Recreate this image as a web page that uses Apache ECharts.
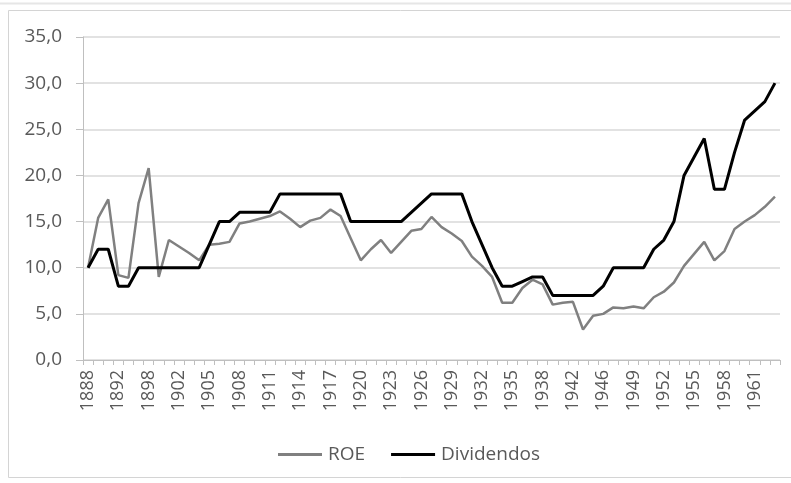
<!DOCTYPE html>
<html>
<head>
<meta charset="utf-8">
<script src="https://cdn.jsdelivr.net/npm/echarts@6/dist/echarts.min.js"></script>
<style>
html,body{margin:0;padding:0;background:#fff;}
#chart{width:791px;height:483px;}
</style>
</head>
<body>
<div id="chart"></div>
<script>
const years = [1888,1889,1890,1892,1894,1896,1898,1899,1900,1902,1903,1904,1905,1906,1907,1908,1909,1910,1911,1912,1913,1914,1915,1916,1917,1918,1919,1920,1921,1922,1923,1924,1925,1926,1927,1928,1929,1930,1931,1932,1933,1934,1935,1936,1937,1938,1939,1940,1942,1943,1944,1946,1947,1948,1949,1950,1951,1952,1953,1954,1955,1956,1957,1958,1959,1960,1961,1962,1963];
const roe = [10.0,15.4,17.4,9.2,8.9,17.0,20.8,9.0,13.0,12.3,11.6,10.8,12.5,12.6,12.8,14.8,15.0,15.3,15.6,16.1,15.3,14.4,15.1,15.4,16.3,15.6,13.2,10.8,12.0,13.0,11.6,12.8,14.0,14.2,15.5,14.4,13.7,12.9,11.2,10.2,9.0,6.2,6.2,7.8,8.7,8.2,6.0,6.2,6.3,3.3,4.8,5.0,5.7,5.6,5.8,5.6,6.8,7.4,8.4,10.2,11.5,12.8,10.8,11.8,14.2,15.0,15.7,16.6,17.7];
const dividendos = [10,12,12,8,8,10,10,10,10,10,10,10,12.5,15,15,16,16,16,16,18,18,18,18,18,18,18,15,15,15,15,15,15,16,17,18,18,18,18,15,12.5,10,8,8,8.5,9,9,7,7,7,7,7,8,10,10,10,10,12,13,15,20,22,24,18.5,18.5,22.5,26,27,28,30];
const seriesNames = ['ROE','Dividendos'];

const chart = echarts.init(document.getElementById('chart'), null, {renderer:'canvas'});
const font = '"Open Sans", sans-serif';
chart.setOption({
  animation:false,
  backgroundColor:'#fff',
  graphic:[
    {type:'line',shape:{x1:0,y1:3.5,x2:791,y2:3.5},style:{stroke:'#e6e6e6',lineWidth:2}},
    {type:'rect',shape:{x:8.5,y:10.5,width:800,height:467},style:{fill:'none',stroke:'#d4d4d4',lineWidth:1}}
  ],
  grid:{left:83,top:37,width:697,height:323,containLabel:false},
  legend:{
    top:440,left:273,itemGap:26,itemWidth:44,itemHeight:3,icon:'rect',
    textStyle:{fontFamily:font,fontSize:19,color:'#595959',padding:[0,0,0,1]},
    data:seriesNames
  },
  xAxis:{
    type:'category',data:years.map(String),boundaryGap:true,
    axisLine:{lineStyle:{color:'#bfbfbf',width:1}},
    axisTick:{show:true,interval:0,length:5,lineStyle:{color:'#bfbfbf'}},
    axisLabel:{interval:2,rotate:90,fontFamily:font,fontSize:18,color:'#595959',margin:10}
  },
  yAxis:{
    type:'value',min:0,max:35,interval:5,
    axisLine:{show:true,lineStyle:{color:'#bfbfbf'}},
    axisTick:{show:true,length:7,lineStyle:{color:'#bfbfbf'}},
    axisLabel:{fontFamily:font,fontSize:19,color:'#595959',margin:21,formatter:v=>v.toFixed(1).replace('.',',')},
    splitLine:{lineStyle:{color:'#d9d9d9',width:1.5}}
  },
  series:[
    {name:'ROE',type:'line',data:roe,symbol:'none',lineStyle:{color:'#808080',width:2.5},itemStyle:{color:'#808080'}},
    {name:'Dividendos',type:'line',data:dividendos,symbol:'none',lineStyle:{color:'#000000',width:3},itemStyle:{color:'#000000'}}
  ]
});
</script>
</body>
</html>
